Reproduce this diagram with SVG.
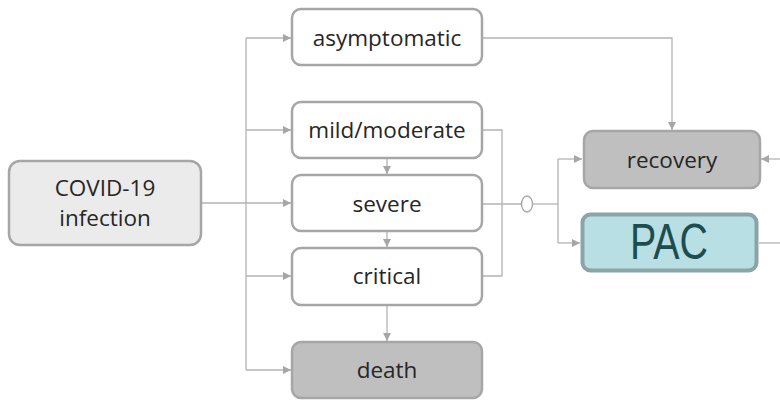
<svg xmlns="http://www.w3.org/2000/svg" width="780" height="403" viewBox="0 0 780 403">
  <style>
    .box { fill: #ffffff; stroke: #a6a6a6; stroke-width: 2.5; }
    .grey { fill: #bfbfbf; }
    .start { fill: #ebebeb; }
    .lbl { font-family: "Open Sans", "Noto Sans", sans-serif; font-size: 22.5px; fill: #262626; text-anchor: middle; }
    .wire { fill: none; stroke: #b3b3b3; stroke-width: 1.3; }
  </style>
  <defs>
    <marker id="arr" viewBox="0 0 10 10" refX="10" refY="5" markerWidth="8" markerHeight="8" markerUnits="userSpaceOnUse" orient="auto">
      <path d="M0,0 L10,5 L0,10 z" fill="#a6a6a6"/>
    </marker>
  </defs>
  <rect width="780" height="403" fill="#ffffff"/>

  <g id="connectors">
    <!-- fan-out from infection -->
    <path class="wire" d="M201,203 H246"/>
    <path class="wire" d="M246,38 V370"/>
    <path class="wire" d="M246,38 H291" marker-end="url(#arr)"/>
    <path class="wire" d="M246,130 H291" marker-end="url(#arr)"/>
    <path class="wire" d="M246,203 H291" marker-end="url(#arr)"/>
    <path class="wire" d="M246,276 H291" marker-end="url(#arr)"/>
    <path class="wire" d="M246,370 H291" marker-end="url(#arr)"/>
    <!-- progression down the severity column -->
    <path class="wire" d="M387,158 V174" marker-end="url(#arr)"/>
    <path class="wire" d="M387,231 V247" marker-end="url(#arr)"/>
    <path class="wire" d="M387,305 V341" marker-end="url(#arr)"/>
    <!-- asymptomatic to recovery -->
    <path class="wire" d="M482,38 H672 V130" marker-end="url(#arr)"/>
    <!-- merge of symptomatic cases -->
    <path class="wire" d="M482,130 H502 V276 H482"/>
    <path class="wire" d="M483,204 H521.5"/>
    <ellipse cx="527" cy="204" rx="5.5" ry="8" fill="#ffffff" stroke="#a6a6a6" stroke-width="1.3"/>
    <path class="wire" d="M532.5,204 H558"/>
    <path class="wire" d="M558,159 V243"/>
    <path class="wire" d="M558,159 H582" marker-end="url(#arr)"/>
    <path class="wire" d="M558,243 H580" marker-end="url(#arr)"/>
    <!-- off to the right -->
    <path class="wire" d="M780,159 H761" marker-end="url(#arr)"/>
    <path class="wire" d="M759,243 H780"/>
  </g>

  <g id="infection">
    <rect class="box start" x="9" y="161" width="192" height="84" rx="11"/>
    <text class="lbl" x="105" y="196">COVID-19</text>
    <text class="lbl" x="105" y="226">infection</text>
  </g>
  <g id="asymptomatic">
    <rect class="box" x="292" y="9" width="190" height="56" rx="9"/>
    <text class="lbl" x="387" y="46">asymptomatic</text>
  </g>
  <g id="mild">
    <rect class="box" x="292" y="102" width="190" height="56" rx="9"/>
    <text class="lbl" x="387" y="138">mild/moderate</text>
  </g>
  <g id="severe">
    <rect class="box" x="292" y="175" width="190" height="56" rx="9"/>
    <text class="lbl" x="387" y="212">severe</text>
  </g>
  <g id="critical">
    <rect class="box" x="292" y="248" width="190" height="57" rx="9"/>
    <text class="lbl" x="387" y="284">critical</text>
  </g>
  <g id="death">
    <rect class="box grey" x="292" y="342" width="190" height="56" rx="9"/>
    <text class="lbl" x="387" y="378">death</text>
  </g>
  <g id="recovery">
    <rect class="box grey" x="584" y="131" width="176" height="57" rx="9"/>
    <text class="lbl" x="672" y="168">recovery</text>
  </g>
  <g id="pac">
    <rect x="582.5" y="214.5" width="174" height="56" rx="8" fill="#b8dfe3" stroke="#8aa5a7" stroke-width="4"/>
    <text x="669" y="259" font-family="'Liberation Sans', Arial, sans-serif" font-size="50" fill="#1e4d4f" text-anchor="middle" textLength="78" lengthAdjust="spacingAndGlyphs">PAC</text>
  </g>
</svg>
